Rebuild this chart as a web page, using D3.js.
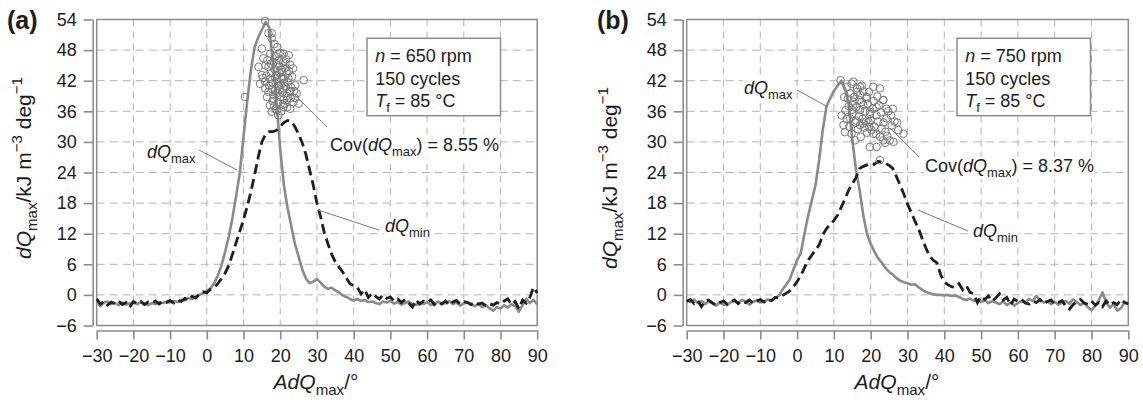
<!DOCTYPE html>
<html><head><meta charset="utf-8">
<script src="https://cdn.jsdelivr.net/npm/d3@7"></script>
<style>
body{margin:0;background:#fff}
svg{display:block}
text{font-family:"Liberation Sans",Arial,Helvetica,sans-serif;fill:#1c1c1c}
</style>
</head><body>
<svg id="chart" width="1143" height="404"></svg>
<script>
// ---------- data ----------
const xTicks = [-30,-20,-10,0,10,20,30,40,50,60,70,80,90];
const yTicks = [-6,0,6,12,18,24,30,36,42,48,54];

// panel (a): n = 650 rpm
const dqMaxA = [[-30,-1.2],[-29,-2.2],[-28,-1.5],[-27,-1.3],[-26,-1.8],[-25,-1.6],[-24,-2.0],[-23,-1.5],[-22,-1.9],[-21,-1.7],[-20,-1.5],[-19,-1.8],[-18,-1.4],[-17,-1.7],[-16,-2.0],[-15,-1.6],[-14,-1.8],[-13,-1.4],[-12,-1.6],[-11,-1.3],[-10,-1.5],[-9,-1.2],[-8,-1.4],[-7,-1.0],[-6,-1.1],[-5,-0.6],[-4,-0.8],[-3,-0.3],[-2,0.0],[-1,0.4],[0,0.8],[1,1.3],[2,2.3],[3,3.8],[4,5.8],[5,8.5],[6,11.5],[7,15.2],[8,19.5],[9,24],[10,31],[11,38],[12,44],[13,48.5],[14,50.5],[15,52],[16,53.5],[17,52.5],[18,45.5],[19,37.5],[20,28.5],[21,21.5],[22,17],[23,13.5],[24,10],[25,7.5],[26,5],[27,3.2],[28,2.3],[29,2.6],[30,3.1],[31,2.4],[32,1.6],[33,1.2],[34,1.4],[35,0.9],[36,0.5],[37,-0.1],[38,-0.4],[39,-0.8],[40,-1.1],[41,-0.8],[42,-1.2],[43,-1.0],[44,-1.4],[45,-1.3],[46,-1.6],[47,-1.8],[48,-1.3],[49,-1.5],[50,-1.2],[51,-1.7],[52,-1.4],[53,-1.9],[54,-1.6],[55,-1.3],[56,-1.8],[57,-2.0],[58,-1.5],[59,-1.8],[60,-1.4],[61,-2.0],[62,-1.7],[63,-1.3],[64,-1.9],[65,-1.6],[66,-1.2],[67,-1.8],[68,-1.5],[69,-2.1],[70,-1.7],[71,-1.4],[72,-1.9],[73,-2.2],[74,-1.8],[75,-2.4],[76,-2.0],[77,-2.6],[78,-3.1],[79,-2.4],[80,-2.7],[81,-2.0],[82,-2.5],[83,-1.8],[84,-2.2],[85,-3.3],[86,-2.0],[87,-0.8],[88,-1.6],[89,-1.0],[90,-1.8]];
const dqMinA = [[-30,-0.8],[-29,-1.8],[-28,-1.2],[-27,-2.0],[-26,-1.4],[-25,-1.7],[-24,-1.2],[-23,-1.9],[-22,-1.5],[-21,-2.4],[-20,-1.3],[-19,-1.7],[-18,-1.3],[-17,-1.9],[-16,-1.4],[-15,-1.6],[-14,-1.2],[-13,-1.8],[-12,-1.3],[-11,-1.5],[-10,-1.1],[-9,-1.6],[-8,-1.0],[-7,-1.3],[-6,-0.7],[-5,-1.0],[-4,-0.3],[-3,-0.6],[-2,0.2],[-1,0.6],[0,0.4],[1,1.1],[2,1.5],[3,2.2],[4,3.2],[5,4.3],[6,5.8],[7,8],[8,10.3],[9,12.5],[10,14.8],[11,17.3],[12,20.2],[13,23.5],[14,27],[15,30],[16,31.5],[17,32],[18,32],[19,32.3],[20,33],[21,33.8],[22,34.2],[23,34],[24,33],[25,31.5],[26,29.8],[27,27.5],[28,24.5],[29,21.5],[30,18],[31,15.3],[32,12.2],[33,10],[34,8],[35,6.5],[36,5.5],[37,4.5],[38,3.3],[39,2.2],[40,1.8],[41,1.5],[42,0.2],[43,1.0],[44,-0.5],[45,0.3],[46,-0.3],[47,-0.8],[48,0.0],[49,-0.7],[50,-0.4],[51,-1.2],[52,-0.8],[53,-1.5],[54,-0.9],[55,-1.6],[56,-2.4],[57,-1.0],[58,-1.8],[59,-1.2],[60,-1.5],[61,-1.0],[62,-1.9],[63,-1.4],[64,-1.7],[65,-1.2],[66,-2.0],[67,-1.4],[68,-1.1],[69,-1.8],[70,-1.3],[71,-1.5],[72,-1.9],[73,-1.4],[74,-1.8],[75,-1.6],[76,-2.1],[77,-1.7],[78,-2.0],[79,-1.5],[80,-1.8],[81,-1.2],[82,-0.8],[83,-1.9],[84,-1.3],[85,-2.7],[86,-1.0],[87,-1.6],[88,-0.5],[89,1.5],[90,0.4]];
const cyclesA = [[15.9,53.7],[16.8,51.3],[17.7,51.3],[17.7,50.3],[15.0,48.3],[14.1,44.7],[15.4,46.4],[17.3,47.3],[19.5,47.3],[20.9,47.3],[22.3,47.0],[22.7,45.1],[21.4,45.4],[18.2,45.7],[16.8,44.7],[15.0,43.1],[15.9,41.8],[14.5,41.4],[17.3,42.4],[19.1,43.1],[20.5,43.7],[21.8,43.4],[23.2,42.8],[26.4,42.1],[24.1,41.1],[24.5,39.5],[22.7,39.8],[20.9,40.5],[18.6,40.1],[16.8,39.8],[15.9,40.5],[18.2,38.5],[20.0,38.8],[21.8,38.2],[23.6,37.8],[25.0,37.5],[22.7,36.5],[20.9,36.9],[19.1,36.2],[19.5,35.2],[17.7,35.9],[10.4,38.8],[16.4,38.8],[18.5,44.2],[19.3,42.0],[20.2,41.2],[19.8,44.8],[21.0,42.3],[18.0,41.5],[19.0,39.5],[20.6,39.7],[21.5,40.8],[17.5,43.5],[22.0,41.7],[19.6,46.0],[20.8,45.6],[18.8,46.8],[17.9,38.0],[21.2,37.5],[22.4,43.9],[16.2,43.0],[20.3,36.0],[23.0,40.7],[18.3,37.0],[19.9,40.3],[21.7,39.0],[17.0,41.0],[18.9,43.0],[20.5,42.6],[19.4,37.8],[22.8,38.6],[16.5,46.0],[21.3,44.5],[18.1,39.2],[20.0,47.5],[23.5,44.4],[17.2,37.2],[19.2,48.6],[18.4,49.2],[21.9,36.8],[24.0,38.6],[16.0,45.0],[22.2,42.5],[19.7,43.6],[20.9,38.3],[17.8,40.4],[18.7,36.4],[21.6,46.2],[15.3,42.5],[23.8,40.0],[20.4,44.1],[19.0,45.2],[22.5,40.0],[18.6,42.6],[17.4,45.3],[20.7,37.3],[21.1,41.6],[19.5,41.0]];

// panel (b): n = 750 rpm
const dqMaxB = [[-30,-1.0],[-29,-1.4],[-28,-0.9],[-27,-1.6],[-26,-1.2],[-25,-1.8],[-24,-1.3],[-23,-1.6],[-22,-2.1],[-21,-1.5],[-20,-1.9],[-19,-2.0],[-18,-1.4],[-17,-1.2],[-16,-1.6],[-15,-1.0],[-14,-1.3],[-13,-1.9],[-12,-1.4],[-11,-1.1],[-10,-1.5],[-9,-1.3],[-8,-0.9],[-7,-1.2],[-6,-0.6],[-5,-0.2],[-4,1.0],[-3,2.0],[-2,3.0],[-1,5.0],[0,6.8],[1,8.2],[2,12],[3,15.5],[4,18.5],[5,21.5],[6,26.5],[7,32.5],[8,37],[9,38.5],[10,40],[11,41],[12,42],[13,40.5],[14,37.5],[15,30.5],[16,24.5],[17,20.5],[18,15.5],[19,12],[20,10],[21,8.5],[22,7.2],[23,6.3],[24,5.3],[25,4.5],[26,4.0],[27,3.3],[28,2.8],[29,2.5],[30,2.3],[31,2.0],[32,2.1],[33,1.5],[34,1.0],[35,0.6],[36,0.3],[37,0.1],[38,0.0],[39,0.0],[40,-0.1],[41,0.0],[42,-0.2],[43,-0.1],[44,-0.4],[45,-0.8],[46,-1.0],[47,-0.7],[48,-1.2],[49,-1.0],[50,-1.4],[51,-1.1],[52,-1.6],[53,-1.2],[54,-1.5],[55,-1.8],[56,-1.3],[57,-2.0],[58,-1.5],[59,-2.1],[60,-1.6],[61,-1.2],[62,-1.5],[63,-0.8],[64,-1.2],[65,-0.2],[66,-1.0],[67,-1.5],[68,-1.2],[69,-1.8],[70,-1.4],[71,-1.9],[72,-1.5],[73,-1.2],[74,-1.7],[75,-0.9],[76,-1.4],[77,-2.0],[78,-1.6],[79,-2.4],[80,-3.0],[81,-2.2],[82,-1.0],[83,0.5],[84,-1.5],[85,-2.5],[86,-1.8],[87,-3.1],[88,-2.6],[89,-1.5],[90,-1.6]];
const dqMinB = [[-30,-1.3],[-29,-0.9],[-28,-1.7],[-27,-1.1],[-26,-2.3],[-25,-1.2],[-24,-1.0],[-23,-1.6],[-22,-2.0],[-21,-1.5],[-20,-1.2],[-19,-1.8],[-18,-1.3],[-17,-1.0],[-16,-1.7],[-15,-1.2],[-14,-1.5],[-13,-1.0],[-12,-1.6],[-11,-1.2],[-10,-0.9],[-9,-1.4],[-8,-0.8],[-7,-1.1],[-6,-0.5],[-5,-0.6],[-4,-0.1],[-3,0.3],[-2,0.8],[-1,1.6],[0,2.6],[1,3.8],[2,5.3],[3,6.8],[4,7.8],[5,8.8],[6,9.8],[7,11.8],[8,13.0],[9,13.8],[10,14.6],[11,15.6],[12,17.2],[13,18.8],[14,20.5],[15,21.8],[16,23],[17,24.8],[18,25.2],[19,25.5],[20,25.8],[21,25.6],[22,26.2],[23,26.0],[24,25.8],[25,25.4],[26,24.8],[27,23.2],[28,21.5],[29,19.8],[30,17.8],[31,16.2],[32,14.5],[33,13.0],[34,11.0],[35,9.2],[36,7.6],[37,6.8],[38,6.3],[39,4.0],[40,2.5],[41,2.0],[42,1.6],[43,1.5],[44,2.2],[45,1.0],[46,1.8],[47,0.5],[48,0.2],[49,-1.5],[50,-0.3],[51,-0.9],[52,-0.2],[53,-1.2],[54,-0.6],[55,0.2],[56,-1.0],[57,-0.5],[58,-2.0],[59,-0.8],[60,-1.3],[61,-0.9],[62,-1.6],[63,-1.8],[64,-1.2],[65,-1.5],[66,-0.9],[67,-1.7],[68,-1.3],[69,-1.0],[70,-1.8],[71,-1.5],[72,-1.1],[73,-2.2],[74,-2.8],[75,-1.9],[76,-1.3],[77,-0.9],[78,-1.6],[79,-1.8],[80,-1.2],[81,-2.0],[82,-1.5],[83,-2.3],[84,-1.2],[85,-2.0],[86,-1.5],[87,-1.9],[88,-0.9],[89,-1.5],[90,-1.8]];
const cyclesB = [[11.8,42.1],[13.5,40.8],[14.8,41.4],[16.2,39.8],[20.7,40.8],[23.4,38.2],[13.0,31.9],[15.7,30.3],[12.1,35.2],[12.6,33.3],[15.3,37.9],[18.0,37.2],[19.8,35.9],[17.1,33.3],[19.4,33.9],[21.6,35.2],[24.3,36.5],[18.9,38.5],[17.1,39.2],[14.4,34.6],[14.8,31.6],[19.8,29.0],[15.3,41.8],[17.1,40.8],[22.5,40.5],[18.9,38.8],[23.4,38.2],[21.6,36.8],[25.7,33.2],[28.9,31.6],[26.2,30.0],[23.4,30.3],[20.7,31.6],[18.0,33.6],[24.3,34.6],[19.8,35.5],[23.0,32.6],[25.2,30.3],[22.5,26.4],[17.1,36.2],[27.5,32.3],[21.6,29.0],[14.0,37.0],[15.0,35.5],[16.0,36.8],[16.8,35.0],[17.5,37.8],[15.8,33.8],[16.5,32.5],[17.8,34.5],[18.5,36.0],[19.2,37.5],[20.0,34.2],[20.5,36.5],[21.0,33.0],[22.0,34.0],[22.8,35.8],[23.5,33.8],[24.0,32.0],[21.5,31.5],[19.0,31.8],[18.2,32.8],[13.8,38.5],[14.6,39.5],[15.5,38.8],[16.3,40.5],[17.6,41.0],[19.5,39.8],[13.2,36.2],[12.8,38.8],[24.8,36.0],[25.5,35.2],[26.5,34.0],[20.8,38.0],[22.3,37.2],[18.0,39.9],[15.2,37.2],[16.9,38.2],[14.2,33.0],[13.5,34.5],[20.2,32.3],[22.6,31.0],[23.9,29.8],[27.2,33.8],[21.8,38.9],[17.3,31.0],[19.6,33.0],[24.5,31.2],[16.0,34.2],[18.7,34.0],[14.9,36.3],[26.0,36.5]];

const panelLabels = ["(a)","(b)"];
const speeds = ["650","750"];
const covValues = ["8.55","8.37"];

// ---------- layout ----------
const panels = [
  {label:panelLabels[0], rpm:speeds[0], cov:covValues[0], mx:dqMaxA, mn:dqMinA, pts:cyclesA,
   x0:96.7, x1:537.2, labX:7, ytX:31, ytY:168, xtX:316,
   covTxt:[330,151], covLine:[293,93,327,127],
   maxTxt:[147,158], maxLine:[199,150,237,170],
   minTxt:[385,232], minLine:[379,230,318,210]},
  {label:panelLabels[1], rpm:speeds[1], cov:covValues[1], mx:dqMaxB, mn:dqMinB, pts:cyclesB,
   x0:686.7, x1:1128.3, labX:597, ytX:617, ytY:178, xtX:897,
   covTxt:[925,172], covLine:[890,128,919,157],
   maxTxt:[744,94], maxLine:[797,90,828,107],
   minTxt:[973,237], minLine:[968,231,918,210]}
];
const yTop = 19.5, yBot = 325.5;

const svg = d3.select("#chart");

function rich(g, x, y, parts, size, opts = {}) {
  const t = g.append("text").attr("x", x).attr("y", y).attr("font-size", size);
  if (opts.anchor) t.attr("text-anchor", opts.anchor);
  if (opts.transform) t.attr("transform", opts.transform);
  if (opts.weight) t.attr("font-weight", opts.weight);
  let shift = 0;
  parts.forEach(p => {
    const s = t.append("tspan").text(p.t);
    const target = p.sub ? size * 0.3 : p.sup ? -size * 0.42 : 0;
    if (target - shift !== 0) s.attr("dy", target - shift);
    shift = target;
    if (p.sub || p.sup) s.attr("font-size", size * 0.72);
    if (p.i) s.attr("font-style", "italic");
  });
  return t;
}

panels.forEach(p => {
  const x = d3.scaleLinear().domain([-30, 90]).range([p.x0, p.x1]);
  const y = d3.scaleLinear().domain([-6, 54]).range([yBot, yTop]);
  const g = svg.append("g");
  const gGrid = g.append("g"), gBg = g.append("g"), gData = g.append("g"), gAnn = g.append("g");

  // grid
  gGrid.selectAll(".vg").data(xTicks.slice(1, -1)).join("line")
    .attr("x1", d => x(d)).attr("x2", d => x(d)).attr("y1", yTop).attr("y2", yBot)
    .attr("stroke", "#b4b4b4").attr("stroke-width", 1).attr("stroke-dasharray", "7,5");
  gGrid.selectAll(".hg").data(yTicks.slice(1, -1)).join("line")
    .attr("y1", d => y(d)).attr("y2", d => y(d)).attr("x1", p.x0).attr("x2", p.x1)
    .attr("stroke", "#b4b4b4").attr("stroke-width", 1).attr("stroke-dasharray", "8,5");

  // frame
  gGrid.append("rect").attr("x", p.x0).attr("y", yTop).attr("width", p.x1 - p.x0).attr("height", yBot - yTop)
    .attr("fill", "none").attr("stroke", "#8c8c8c").attr("stroke-width", 1.5);

  // axes
  const ax = g.append("g").attr("transform", `translate(0,${yBot + 5})`)
    .call(d3.axisBottom(x).tickValues(xTicks).tickSize(9).tickSizeOuter(0).tickPadding(10));
  const ay = g.append("g").attr("transform", `translate(${p.x0 - 4},0)`)
    .call(d3.axisLeft(y).tickValues(yTicks).tickSize(9).tickSizeOuter(0).tickPadding(7));
  [ax, ay].forEach(a => {
    a.select(".domain").attr("stroke", "#8c8c8c").attr("stroke-width", 1.6);
    a.selectAll(".tick line").attr("stroke", "#8c8c8c").attr("stroke-width", 1.6);
    a.selectAll(".tick text").attr("font-size", 18).attr("fill", "#1c1c1c")
      .attr("font-family", "'Liberation Sans',Arial,sans-serif");
  });

  // data lines
  const line = d3.line().x(d => x(d[0])).y(d => y(d[1]));
  gData.append("path").datum(p.mx).attr("d", line).attr("fill", "none")
    .attr("stroke", "#8a8a8a").attr("stroke-width", 2.6).attr("stroke-linejoin", "round");
  gData.append("path").datum(p.mn).attr("d", line).attr("fill", "none")
    .attr("stroke", "#1e1e1e").attr("stroke-width", 2.8).attr("stroke-dasharray", "10,5");
  gData.selectAll("circle").data(p.pts).join("circle")
    .attr("cx", d => x(d[0])).attr("cy", d => y(d[1])).attr("r", 3.8)
    .attr("fill", "none").attr("stroke", "#7a7a7a").attr("stroke-width", 1);

  // info box
  const bx = p.x0 + 270.3, by = 38.3;
  gAnn.append("rect").attr("x", bx).attr("y", by).attr("width", 133.5).attr("height", 77.4)
    .attr("fill", "#fff").attr("stroke", "#8c8c8c").attr("stroke-width", 1.5);
  const tx = p.x0 + 278.5;
  rich(gAnn, tx, 62.3, [{t:"n", i:true}, {t:" = " + p.rpm + " rpm"}], 18);
  rich(gAnn, tx, 85, [{t:"150 cycles"}], 18);
  rich(gAnn, tx, 107, [{t:"T", i:true}, {t:"f", sub:true}, {t:" = 85 °C"}], 18);

  // annotations
  const leader = c => gAnn.append("line").attr("x1", c[0]).attr("y1", c[1]).attr("x2", c[2]).attr("y2", c[3])
    .attr("stroke", "#7a7a7a").attr("stroke-width", 1);
  const withBg = t => { const b = t.node().getBBox();
    gBg.append("rect").attr("x", b.x - 1).attr("y", b.y + 1).attr("width", b.width + 2).attr("height", b.height - 2).attr("fill", "#fff"); };
  leader(p.covLine); leader(p.maxLine); leader(p.minLine);
  withBg(rich(gAnn, p.covTxt[0], p.covTxt[1], [{t:"Cov("}, {t:"dQ", i:true}, {t:"max", sub:true}, {t:") = " + p.cov + " %"}], 18));
  withBg(rich(gAnn, p.maxTxt[0], p.maxTxt[1], [{t:"dQ", i:true}, {t:"max", sub:true}], 18));
  withBg(rich(gAnn, p.minTxt[0], p.minTxt[1], [{t:"dQ", i:true}, {t:"min", sub:true}], 18));

  // panel label
  rich(g, p.labX, 29, [{t:p.label}], 25, {weight:"bold"});

  // axis titles
  rich(g, p.xtX, 389, [{t:"AdQ", i:true}, {t:"max", sub:true}, {t:"/°"}], 21, {anchor:"middle"});
  rich(g, p.ytX, p.ytY, [{t:"dQ", i:true}, {t:"max", sub:true}, {t:"/kJ m"}, {t:"−3", sup:true}, {t:" deg"}, {t:"−1", sup:true}], 21,
    {anchor:"middle", transform:`rotate(-90,${p.ytX},${p.ytY})`});
});
</script>
</body></html>
